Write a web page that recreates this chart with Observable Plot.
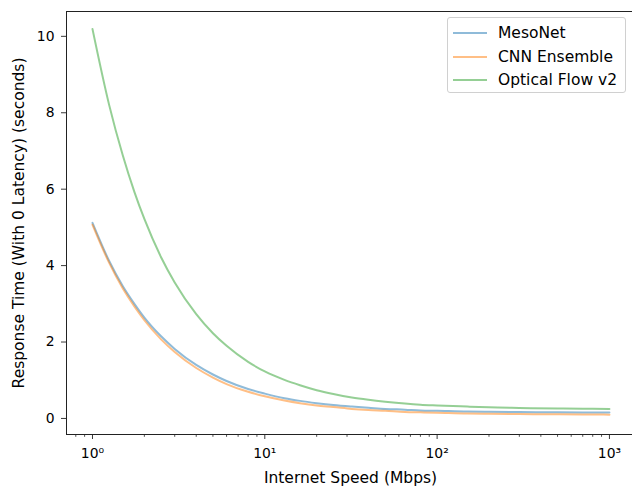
<!DOCTYPE html>
<html>
<head>
<meta charset="utf-8">
<script src="https://cdn.jsdelivr.net/npm/d3@7"></script>
<script src="https://cdn.jsdelivr.net/npm/@observablehq/plot@0.6"></script>
<style>
  html, body { margin: 0; padding: 0; background: white; overflow: hidden; }
  #wrap { position: relative; width: 632px; height: 488px; font-family: "DejaVu Sans", sans-serif; }
  #legend {
    position: absolute; left: 447px; top: 17px; width: 179px; height: 76px;
    border: 1px solid #d0d0d0; border-radius: 3px; background: rgba(255,255,255,0.8);
    box-sizing: border-box; font-size: 15.5px; color: #000;
  }
  .row { position: absolute; left: 0; height: 18px; display: flex; align-items: center; white-space: nowrap; }
  .sw { width: 34px; height: 2px; margin-left: 5px; margin-right: 11px; }
</style>
</head>
<body>
<div id="wrap"><div id="legend"></div></div>
<script>
// ---- data ----
const speeds = [1, 1.25, 1.5, 1.75, 2, 2.5, 3, 4, 5, 6, 8, 10, 13, 16, 20, 25, 32, 40, 50, 65, 80, 100, 150, 200, 300, 500, 700, 1000];
const mesoNet = [5.12, 4.12, 3.46, 3.00, 2.64, 2.15, 1.82, 1.40, 1.15, 0.98, 0.77, 0.65, 0.53, 0.46, 0.40, 0.35, 0.31, 0.28, 0.25, 0.23, 0.21, 0.20, 0.18, 0.175, 0.167, 0.16, 0.157, 0.155];
const cnnEnsemble = [5.07, 4.07, 3.40, 2.93, 2.57, 2.07, 1.74, 1.32, 1.07, 0.90, 0.70, 0.58, 0.47, 0.40, 0.34, 0.30, 0.25, 0.22, 0.20, 0.17, 0.16, 0.15, 0.13, 0.125, 0.115, 0.108, 0.105, 0.10];
const opticalFlow = [10.19, 8.20, 6.88, 5.93, 5.22, 4.22, 3.56, 2.73, 2.23, 1.90, 1.48, 1.23, 1.01, 0.87, 0.74, 0.64, 0.55, 0.49, 0.44, 0.39, 0.36, 0.34, 0.31, 0.29, 0.275, 0.26, 0.255, 0.25];
const seriesNames = ["MesoNet", "CNN Ensemble", "Optical Flow v2"];
const seriesColors = ["#1f77b4", "#ff7f0e", "#2ca02c"];
const xTicks = [1, 10, 100, 1000];
const xTickLabels = ["10\u2070", "10\u00B9", "10\u00B2", "10\u00B3"];
const xMinorTicks = [0.8, 0.9, 2, 3, 4, 5, 6, 7, 8, 9, 20, 30, 40, 50, 60, 70, 80, 90, 200, 300, 400, 500, 600, 700, 800, 900];
const yTicks = [0, 2, 4, 6, 8, 10];
const xLabel = "Internet Speed (Mbps)";
const yLabel = "Response Time (With 0 Latency) (seconds)";

const allSeries = [mesoNet, cnnEnsemble, opticalFlow];
const data = seriesNames.flatMap((name, i) =>
  speeds.map((s, j) => ({speed: s, time: allSeries[i][j], series: name})));

const chart = Plot.plot({
  width: 632,
  height: 488,
  marginTop: 11,
  marginBottom: 54,
  marginLeft: 66,
  marginRight: -2,
  style: {fontFamily: "DejaVu Sans", fontSize: "13.9px", color: "#000", background: "white"},
  x: {type: "log", domain: [0.7066, 1398]},
  y: {domain: [-0.42, 10.65]},
  color: {domain: seriesNames, range: seriesColors},
  marks: [
    Plot.axisX(xMinorTicks, {tickSize: 2.8, tickFormat: () => "", label: null, stroke: "#222", strokeWidth: 0.8}),
    Plot.axisX(xTicks, {tickSize: 5, tickPadding: 9, label: null, stroke: "#222", strokeWidth: 0.9,
      tickFormat: d => xTickLabels[xTicks.indexOf(d)]}),
    Plot.axisY(yTicks, {tickSize: 5, tickPadding: 7, label: null, stroke: "#222", strokeWidth: 0.9,
      tickFormat: d => String(d)}),
    Plot.line(data, {x: "speed", y: "time", z: "series", stroke: "series", strokeWidth: 2,
      strokeOpacity: 0.5, curve: "monotone-x"}),
    Plot.frame({stroke: "#222", strokeWidth: 1}),
    Plot.text([xLabel], {frameAnchor: "bottom", lineAnchor: "middle", textAnchor: "middle",
      dy: 44, fontSize: 15.5, text: d => d}),
    Plot.text([yLabel], {frameAnchor: "left", lineAnchor: "middle", textAnchor: "middle",
      dx: -47, rotate: -90, fontSize: 15.5, text: d => d})
  ]
});
document.getElementById("wrap").prepend(chart);

const legend = document.getElementById("legend");
seriesNames.forEach((name, i) => {
  const row = document.createElement("div");
  row.className = "row";
  row.style.top = (6 + i * 23.5) + "px";
  const sw = document.createElement("div");
  sw.className = "sw";
  sw.style.background = seriesColors[i];
  sw.style.opacity = 0.5;
  const t = document.createElement("span");
  t.textContent = name;
  row.appendChild(sw);
  row.appendChild(t);
  legend.appendChild(row);
});
</script>
</body>
</html>
